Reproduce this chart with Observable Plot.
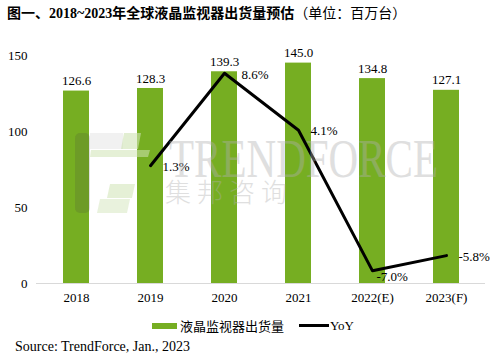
<!DOCTYPE html>
<html><head><meta charset="utf-8">
<script src="https://cdn.jsdelivr.net/npm/d3@7"></script>
<script src="https://cdn.jsdelivr.net/npm/@observablehq/plot@0.6"></script>
<style>
body{margin:0;background:#fff;width:496px;height:360px;overflow:hidden;position:relative;font-family:"Liberation Serif","Noto Sans CJK SC",serif;color:#000;}
#title{position:absolute;left:7px;top:2px;font-size:14px;font-weight:bold;white-space:nowrap;font-family:"Liberation Serif","Noto Sans CJK SC",serif;}
#title span{font-weight:normal;}
#chart{position:absolute;left:0;top:30px;}
#wm{position:absolute;left:0;top:0;pointer-events:none;}
#wm1{position:absolute;left:169px;top:128px;font-size:54px;color:#b0b0b0;opacity:0.4;font-family:"Liberation Serif",serif;white-space:nowrap;transform:scaleX(0.76);transform-origin:0 0;}
#wm2{position:absolute;left:165px;top:172px;font-size:26px;color:#b0b0b0;opacity:0.4;font-family:"Noto Sans CJK SC",sans-serif;letter-spacing:6px;white-space:nowrap;font-weight:300;}
#logo{position:absolute;left:0;top:0;pointer-events:none;}
#legend{position:absolute;left:152px;top:316px;display:flex;align-items:center;font-size:13px;white-space:nowrap;}
.sw{display:inline-block;width:25px;height:6px;background:#76AE22;margin-right:3px;}
.ln{display:inline-block;width:30px;height:3px;background:#000;margin-left:15px;margin-right:1px;}
#source{position:absolute;left:15px;top:339px;font-size:14px;font-family:"Liberation Serif",serif;white-space:nowrap;}
</style></head>
<body>
<div id="title">图一、2018~2023年全球液晶监视器出货量预估<span>（单位：百万台）</span></div>
<div id="chart"></div>
<svg id="logo" width="496" height="360">
  <rect x="75" y="133" width="15" height="80" rx="5" fill="#444" opacity="0.17"/>
  <rect x="90" y="133" width="33" height="16" fill="#999" opacity="0.14"/>
  <polygon points="124,133 141,133 138,149 121,149" fill="#cfe3b4" opacity="0.6"/>
  <polygon points="91,150 150,150 148,157 90,157" fill="#cfe3b4" opacity="0.55"/>
  <polygon points="110,184 135,184 132,198 107,198" fill="#cfe3b4" opacity="0.55"/>
  <polygon points="100,199 130,199 127,213 97,213" fill="#cfe3b4" opacity="0.45"/>
</svg>
<div id="wm"><div id="wm1">TRENDFORCE</div><div id="wm2">集邦咨询</div></div>
<div id="legend"><span class="sw"></span><span>液晶监视器出货量</span><span class="ln"></span><span>YoY</span></div>
<div id="source">Source: TrendForce, Jan., 2023</div>
<script>
const years = ["2018","2019","2020","2021","2022(E)","2023(F)"];
const shipments = [126.6,128.3,139.3,145.0,134.8,127.1];
const yoyYears = ["2019","2020","2021","2022(E)","2023(F)"];
const yoy = [1.3,8.6,4.1,-7.0,-5.8];
const yTicks = [0,50,100,150];
const yoyDomain = [-8,10];

const bars = years.map((y,i)=>({year:y, value:shipments[i]}));
const toLeft = v => (v - yoyDomain[0])/(yoyDomain[1]-yoyDomain[0])*150;
const line = yoyYears.map((y,i)=>({year:y, yoy:yoy[i], pos:toLeft(yoy[i])}));

const font = "Liberation Serif, serif";
const lbl = (filter, dx, dy) => Plot.text(line,{filter, x:"year", y:"pos", text:d=>d.yoy.toFixed(1)+"%", dx, dy, textAnchor:"start", fontSize:13, fontFamily:font, fill:"#000"});
const plot = Plot.plot({
  width:496, height:275,
  marginLeft:36, marginRight:11, marginTop:25, marginBottom:22,
  style:{fontFamily:font, fontSize:"13px", background:"transparent", color:"#000"},
  x:{domain:years, paddingInner:0.65, paddingOuter:0.325, label:null, tickSize:0, tickPadding:9},
  y:{domain:[0,150], ticks:yTicks, label:null, tickSize:0, tickPadding:9},
  marks:[
    Plot.barY(bars,{x:"year", y:"value", fill:"#76AE22"}),
    Plot.ruleY([0],{stroke:"#d9d9d9", strokeWidth:1}),
    Plot.text(bars,{x:"year", y:"value", text:d=>d.value.toFixed(1), dy:-10, fontSize:13, fontFamily:font, fill:"#000"}),
    Plot.line(line,{x:"year", y:"pos", stroke:"#000", strokeWidth:3}),
    lbl(d=>d.year==="2019"||d.year==="2021"||d.year==="2023(F)", 12, 1),
    lbl(d=>d.year==="2020", 17, 2),
    lbl(d=>d.year==="2022(E)", 4, 6)
  ]
});
document.getElementById("chart").appendChild(plot);
</script>
</body></html>
